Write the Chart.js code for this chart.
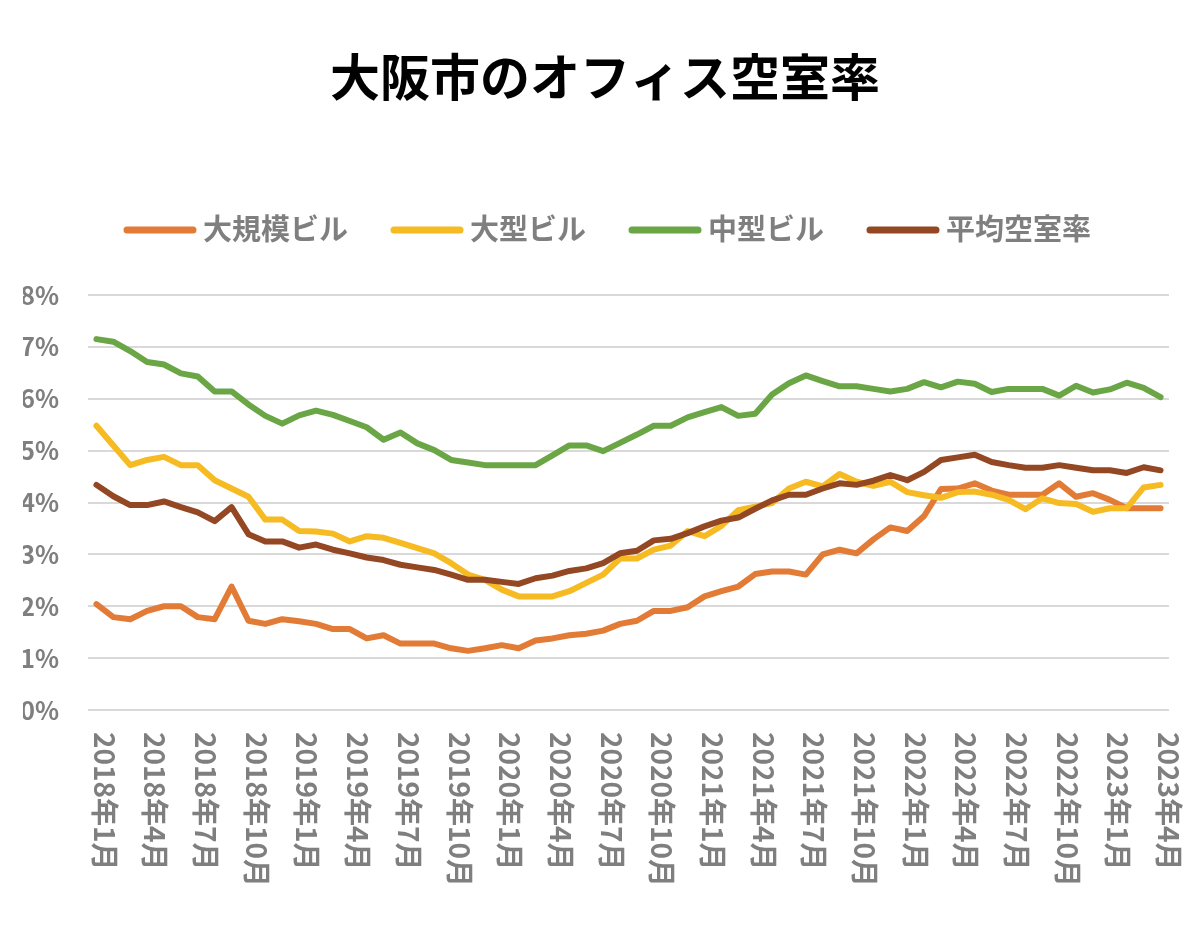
<!DOCTYPE html>
<html lang="ja">
<head>
    <meta charset="UTF-8">
    <title>大阪市のオフィス空室率</title>
    <script src="https://cdn.jsdelivr.net/npm/chart.js"></script>
    <style>
        body {
            margin: 0;
            background: #ffffff;
        }
        #wrap {
            width: 1201px;
            height: 949px;
        }
    </style>
</head>
<body>

    <div id="wrap">
        <canvas id="vacancyChart" width="1201" height="949"></canvas>
    </div>

    <script>
        const chartTitle = '大阪市のオフィス空室率';

        const categories = [
            '2018年1月', '2018年2月', '2018年3月', '2018年4月', '2018年5月', '2018年6月',
            '2018年7月', '2018年8月', '2018年9月', '2018年10月', '2018年11月', '2018年12月',
            '2019年1月', '2019年2月', '2019年3月', '2019年4月', '2019年5月', '2019年6月',
            '2019年7月', '2019年8月', '2019年9月', '2019年10月', '2019年11月', '2019年12月',
            '2020年1月', '2020年2月', '2020年3月', '2020年4月', '2020年5月', '2020年6月',
            '2020年7月', '2020年8月', '2020年9月', '2020年10月', '2020年11月', '2020年12月',
            '2021年1月', '2021年2月', '2021年3月', '2021年4月', '2021年5月', '2021年6月',
            '2021年7月', '2021年8月', '2021年9月', '2021年10月', '2021年11月', '2021年12月',
            '2022年1月', '2022年2月', '2022年3月', '2022年4月', '2022年5月', '2022年6月',
            '2022年7月', '2022年8月', '2022年9月', '2022年10月', '2022年11月', '2022年12月',
            '2023年1月', '2023年2月', '2023年3月', '2023年4月'
        ];
        const tickEvery = 3;

        const seriesNames = ['大規模ビル', '大型ビル', '中型ビル', '平均空室率'];
        const seriesColors = ['#E27B36', '#F6BA22', '#6BA646', '#944723'];

        // 空室率 (%)
        const largeScale = [
            2.04, 1.79, 1.75, 1.91, 2.00, 2.00, 1.79, 1.75, 2.38, 1.72,
            1.66, 1.75, 1.71, 1.66, 1.56, 1.56, 1.38, 1.44, 1.28, 1.28,
            1.28, 1.19, 1.14, 1.19, 1.25, 1.19, 1.34, 1.38, 1.44, 1.47,
            1.53, 1.66, 1.72, 1.91, 1.91, 1.98, 2.19, 2.29, 2.38, 2.62,
            2.67, 2.67, 2.61, 3.00, 3.09, 3.02, 3.29, 3.52, 3.45, 3.74,
            4.26, 4.27, 4.37, 4.23, 4.15, 4.15, 4.15, 4.37, 4.11, 4.18,
            4.05, 3.89, 3.89, 3.89
        ];
        const large = [
            5.48, 5.10, 4.72, 4.82, 4.88, 4.72, 4.72, 4.43, 4.27, 4.11,
            3.67, 3.67, 3.45, 3.44, 3.40, 3.25, 3.35, 3.32, 3.22, 3.12,
            3.02, 2.83, 2.61, 2.51, 2.32, 2.19, 2.19, 2.19, 2.29, 2.45,
            2.61, 2.92, 2.92, 3.09, 3.17, 3.45, 3.35, 3.55, 3.85, 3.92,
            3.99, 4.27, 4.40, 4.31, 4.55, 4.40, 4.32, 4.40, 4.20, 4.14,
            4.09, 4.20, 4.21, 4.15, 4.05, 3.87, 4.08, 3.99, 3.97, 3.82,
            3.89, 3.89, 4.29, 4.34
        ];
        const medium = [
            7.15, 7.10, 6.92, 6.71, 6.66, 6.49, 6.43, 6.14, 6.14, 5.89,
            5.67, 5.52, 5.68, 5.77, 5.69, 5.57, 5.45, 5.21, 5.35, 5.14,
            5.01, 4.82, 4.77, 4.72, 4.72, 4.72, 4.72, 4.91, 5.10, 5.10,
            4.99, 5.15, 5.31, 5.48, 5.48, 5.64, 5.74, 5.84, 5.67, 5.71,
            6.08, 6.30, 6.45, 6.34, 6.24, 6.24, 6.19, 6.14, 6.19, 6.32,
            6.22, 6.33, 6.29, 6.13, 6.19, 6.19, 6.19, 6.06, 6.25, 6.12,
            6.18, 6.31, 6.21, 6.03
        ];
        const average = [
            4.34, 4.12, 3.95, 3.95, 4.02, 3.91, 3.81, 3.64, 3.91, 3.39,
            3.25, 3.25, 3.13, 3.19, 3.09, 3.02, 2.94, 2.89, 2.80, 2.75,
            2.70, 2.61, 2.51, 2.51, 2.47, 2.43, 2.54, 2.59, 2.68, 2.73,
            2.83, 3.02, 3.07, 3.27, 3.30, 3.41, 3.54, 3.65, 3.71, 3.88,
            4.04, 4.15, 4.15, 4.27, 4.37, 4.34, 4.42, 4.53, 4.43, 4.59,
            4.82, 4.87, 4.92, 4.78, 4.72, 4.67, 4.67, 4.72, 4.67, 4.62,
            4.62, 4.57, 4.68, 4.62
        ];
        const seriesValues = [largeScale, large, medium, average];

        const fontFamily = '"Noto Sans CJK JP", "Noto Sans", sans-serif';
        const textGray = '#7F7F7F';

        Chart.defaults.font.family = fontFamily;

        // title + legend drawn above the plot, vertical month labels below it
        const decorPlugin = {
            id: 'decor',
            afterDraw(chart) {
                const ctx = chart.ctx;
                const xs = chart.scales.x;

                ctx.save();
                ctx.fillStyle = '#000000';
                ctx.font = 'bold 50px ' + fontFamily;
                ctx.textAlign = 'center';
                ctx.textBaseline = 'middle';
                ctx.fillText(chartTitle, 605, 77);

                // legend
                ctx.font = 'bold 29px ' + fontFamily;
                ctx.textAlign = 'left';
                const lineLen = 66, textGap = 10, itemGap = 46;
                const widths = seriesNames.map(n => lineLen + textGap + ctx.measureText(n).width);
                const total = widths.reduce((a, b) => a + b, 0) + itemGap * (widths.length - 1);
                let x = 609 - total / 2;
                const ly = 229;
                seriesNames.forEach((name, i) => {
                    ctx.strokeStyle = seriesColors[i];
                    ctx.lineWidth = 7;
                    ctx.lineCap = 'round';
                    ctx.beginPath();
                    ctx.moveTo(x, ly + 1);
                    ctx.lineTo(x + lineLen, ly + 1);
                    ctx.stroke();
                    ctx.fillStyle = textGray;
                    ctx.fillText(name, x + lineLen + textGap, ly);
                    x += widths[i] + itemGap;
                });

                // x tick labels, rotated clockwise
                ctx.font = 'bold 28px ' + fontFamily;
                ctx.fillStyle = textGray;
                ctx.textAlign = 'left';
                ctx.textBaseline = 'middle';
                categories.forEach((c, i) => {
                    if (i % tickEvery !== 0) return;
                    const px = xs.getPixelForValue(i) + 8;
                    ctx.save();
                    ctx.translate(px, chart.chartArea.bottom + 22);
                    ctx.rotate(Math.PI / 2);
                    ctx.fillText(c, 0, 0);
                    ctx.restore();
                });
                ctx.restore();
            }
        };

        const ctx = document.getElementById('vacancyChart').getContext('2d');

        const chart = new Chart(ctx, {
            type: 'line',
            data: {
                labels: categories,
                datasets: seriesNames.map((name, i) => ({
                    label: name,
                    data: seriesValues[i],
                    borderColor: seriesColors[i],
                    backgroundColor: seriesColors[i],
                    borderWidth: 6,
                    borderCapStyle: 'round',
                    borderJoinStyle: 'round',
                    pointRadius: 0,
                    tension: 0,
                    fill: false,
                    order: seriesNames.length - i
                }))
            },
            options: {
                responsive: false,
                animation: false,
                layout: {
                    padding: { top: 295, left: 23, right: 32, bottom: 239 }
                },
                plugins: {
                    legend: { display: false },
                    title: { display: false },
                    tooltip: { enabled: false }
                },
                scales: {
                    x: {
                        offset: true,
                        grid: { display: false },
                        border: { display: false },
                        ticks: { display: false },
                        afterFit(scale) { scale.height = 0; }
                    },
                    y: {
                        min: 0,
                        max: 8,
                        grid: {
                            color: '#D9D9D9',
                            lineWidth: 2,
                            drawTicks: false
                        },
                        border: { display: false },
                        ticks: {
                            stepSize: 1,
                            padding: 29,
                            color: textGray,
                            font: { size: 25, weight: 'bold' },
                            callback: v => v + '%'
                        },
                        afterFit(scale) { scale.width = 65; }
                    }
                }
            },
            plugins: [decorPlugin]
        });
    </script>

</body>
</html>
